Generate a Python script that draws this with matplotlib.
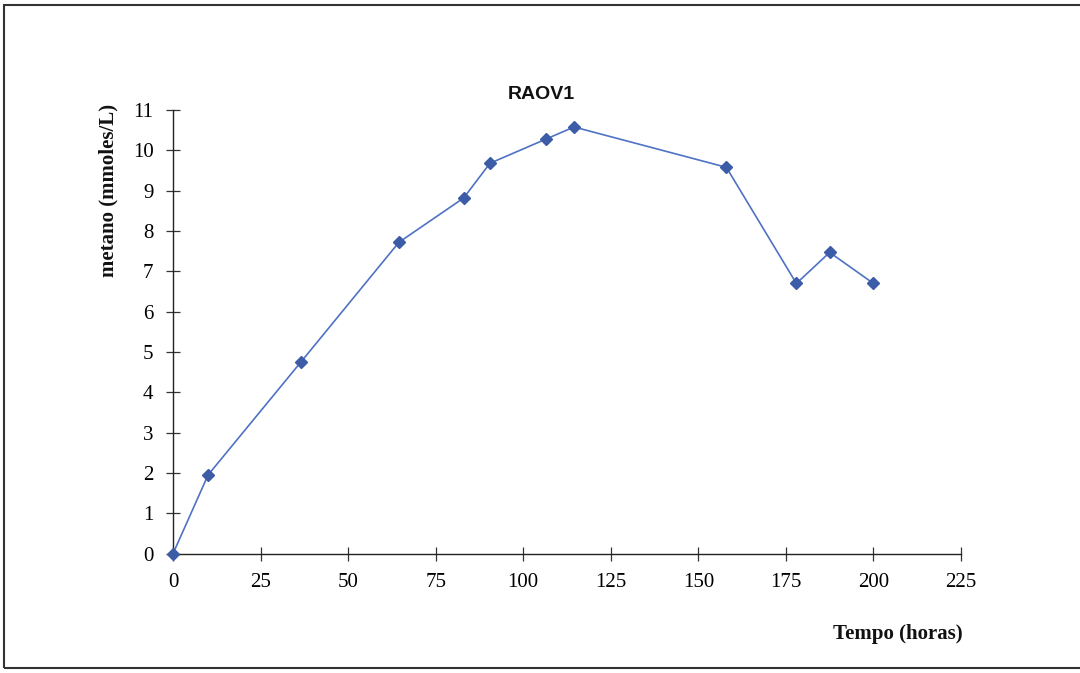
import matplotlib.pyplot as plt
from matplotlib.patches import Rectangle

# RAOV1 - metano vs tempo
tempo = [0, 10, 36.5, 64.5, 83, 90.5, 106.5, 114.5, 158, 178, 187.5, 200]
metano = [0, 1.95, 4.75, 7.72, 8.82, 9.68, 10.28, 10.58, 9.58, 6.70, 7.47, 6.70]
xticks = [0, 25, 50, 75, 100, 125, 150, 175, 200, 225]
yticks = list(range(0, 12))

fig = plt.figure(figsize=(10.8, 6.73), dpi=100)
ax = fig.add_axes([0.1602, 0.1773, 0.7296, 0.6592])

ax.plot(tempo, metano, color='#4f72c4', lw=1.2, marker='D', markersize=6,
        markerfacecolor='#3d5ca8', markeredgecolor='#3d5ca8', clip_on=False, zorder=3)

ax.set_xlim(0, 225)
ax.set_ylim(0, 11)
ax.set_xticks(xticks)
ax.set_yticks(yticks)
ax.spines['top'].set_visible(False)
ax.spines['right'].set_visible(False)
for s in ('left', 'bottom'):
    ax.spines[s].set_linewidth(1.0)
    ax.spines[s].set_color('#222222')

ax.tick_params(direction='inout', length=10, width=0.9, color='#333333',
               labelsize=15, pad=9)
for lab in ax.get_xticklabels() + ax.get_yticklabels():
    lab.set_fontfamily('Liberation Serif')

# titles / labels
fig.text(0.501, 0.859, 'RAOV1', family='Liberation Sans', fontweight='bold',
         fontsize=14, ha='center', va='center', color='#111111')
fig.text(0.100, 0.717, 'metano (mmoles/L)', family='Liberation Serif', fontweight='bold',
         fontsize=15, rotation=90, ha='center', va='center', color='#111111')
fig.text(0.891, 0.058, 'Tempo (horas)', family='Liberation Serif', fontweight='bold',
         fontsize=15, ha='right', va='center', color='#111111')

# outer frame of the chart area (right edge falls outside the picture)
fig.add_artist(Rectangle((0.004, 0.0074), 1.2, 0.985, transform=fig.transFigure,
                         fill=False, lw=1.5, edgecolor='#333333'))

fig.savefig('out.png', dpi=100, facecolor='white')
